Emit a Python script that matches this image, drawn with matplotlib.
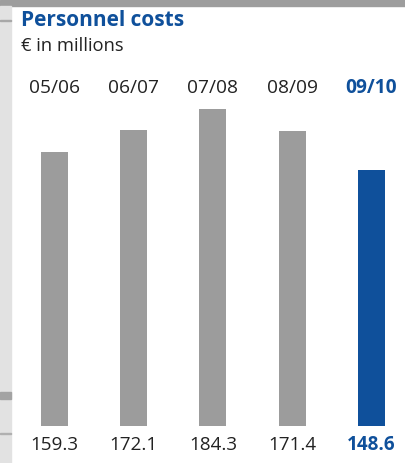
import matplotlib
matplotlib.use('Agg')
import matplotlib.pyplot as plt
from matplotlib.patches import Rectangle
from matplotlib.transforms import blended_transform_factory

years = ['05/06', '06/07', '07/08', '08/09', '09/10']
costs = [159.3, 172.1, 184.3, 171.4, 148.6]

GRAY = '#9c9c9c'
BLUE = '#0f509b'
TEXT = '#222222'

plt.rcParams['font.family'] = ['Open Sans', 'DejaVu Sans']

W, H = 406, 463
fig = plt.figure(figsize=(W / 100, H / 100), dpi=100)
fig.patch.set_facecolor('white')


def px(x, y, w, h, color):
    # rectangle given in pixels from the top-left corner
    fig.patches.append(Rectangle((x / W, 1 - (y + h) / H), w / W, h / H,
                                 transform=fig.transFigure, color=color,
                                 zorder=0))


# frame decoration
px(0, 0, W, 6, '#9d9d9d')
px(0, 6, 11, H - 6, '#e2e2e2')
px(0, 20, 11, 1, '#a8a8a8')
px(0, 392, 11, 7, '#a3a3a3')
px(0, 433, 11, 1, '#b0b0b0')

fig.text(21 / W, 1 - 21 / H, 'Personnel costs', color=BLUE, fontsize=15,
         fontweight='bold', va='center', ha='left')
fig.text(21 / W, 1 - 46 / H, '€ in millions', color=TEXT, fontsize=13.2,
         va='center', ha='left')

# bars: baseline at y=426px, 79.25px between centres
step = 79.25
ax = fig.add_axes([0, 1 - 426 / H, 1, 326 / H])
ax.set_xlim(-54.5 / step, (W - 54.5) / step)
ax.set_ylim(0, 326 / 1.722)
ax.axis('off')

colors = [GRAY] * (len(costs) - 1) + [BLUE]
xs = list(range(len(costs)))
ax.bar(xs, costs, width=27 / step, color=colors)

tr = blended_transform_factory(ax.transData, fig.transFigure)
for i, (yr, v) in enumerate(zip(years, costs)):
    last = i == len(costs) - 1
    ax.text(i, 1 - 88 / H, yr, transform=tr, ha='center', va='center',
            fontsize=13.8, color=BLUE if last else TEXT,
            fontweight='bold' if last else 'normal')
    ax.text(i, 1 - 445 / H, f'{v:.1f}', transform=tr, ha='center',
            va='center', fontsize=13.6, color=BLUE if last else TEXT,
            fontweight='bold' if last else 'normal')

fig.savefig('out.png', dpi=100)
